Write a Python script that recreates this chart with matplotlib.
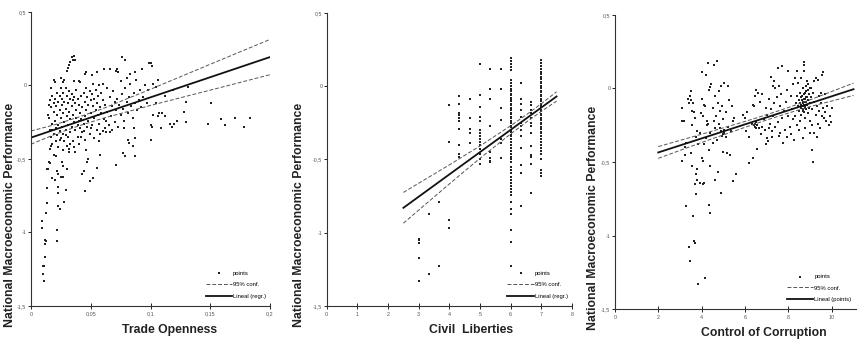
import numpy as np
import matplotlib.pyplot as plt

plt.rcParams['font.family'] = ['Liberation Sans', 'DejaVu Sans']

# ---- panel 1: trade openness (x, y)
trade_pts = [
    (0.0095, -0.92), (0.0095, -0.97), (0.0098, -1.23), (0.010, -1.28), (0.011, -1.33), (0.011, -1.23),
    (0.012, -1.05), (0.0122, -1.06), (0.012, -1.08), (0.012, -1.17), (0.0125, -0.87), (0.013, -0.80),
    (0.013, -0.70), (0.013, -0.57), (0.014, -0.57), (0.015, -0.52), (0.016, -0.53), (0.016, -0.43),
    (0.017, -0.41), (0.018, -0.63), (0.019, -0.47), (0.020, -0.64), (0.021, -0.48), (0.022, -0.98),
    (0.022, -1.06), (0.022, -0.58), (0.023, -0.60), (0.023, -0.69), (0.023, -0.73), (0.023, -0.82),
    (0.024, -0.84), (0.025, -0.62), (0.026, -0.52), (0.027, -0.55), (0.027, -0.62), (0.028, -0.79),
    (0.029, -0.71), (0.030, -0.57), (0.032, -0.45), (0.045, -0.72), (0.043, -0.60), (0.044, -0.58),
    (0.047, -0.52), (0.048, -0.50), (0.046, -0.44), (0.049, -0.65), (0.052, -0.63), (0.055, -0.56),
    (0.057, -0.38), (0.058, -0.47), (0.071, -0.54), (0.077, -0.46), (0.079, -0.48), (0.081, -0.37),
    (0.082, -0.39), (0.085, -0.41), (0.087, -0.48), (0.086, -0.29), (0.087, -0.36), (0.100, -0.37),
    (0.100, -0.27), (0.101, -0.28), (0.102, -0.20), (0.105, -0.12), (0.106, -0.21), (0.107, -0.19),
    (0.109, -0.29), (0.110, -0.19), (0.112, -0.21), (0.116, -0.26), (0.118, -0.28), (0.120, -0.26),
    (0.122, -0.24), (0.128, -0.18), (0.130, -0.25), (0.130, -0.11), (0.131, -0.01), (0.148, -0.26),
    (0.151, -0.12), (0.159, -0.23), (0.162, -0.27), (0.171, -0.22), (0.178, -0.28), (0.183, -0.22),
    (0.106, 0.04), (0.112, -0.07), (0.119, -0.03), (0.014, -0.20), (0.015, -0.13), (0.015, -0.22),
    (0.016, -0.10), (0.016, -0.30), (0.017, -0.02), (0.017, -0.15), (0.017, -0.35), (0.018, -0.07),
    (0.018, -0.26), (0.018, -0.40), (0.019, -0.12), (0.019, -0.18), (0.019, -0.33), (0.020, 0.02),
    (0.020, -0.09), (0.020, -0.24), (0.021, -0.14), (0.021, -0.29), (0.021, -0.38), (0.022, -0.05),
    (0.022, -0.20), (0.022, -0.34), (0.023, -0.11), (0.023, -0.27), (0.023, -0.42), (0.024, -0.07),
    (0.024, -0.17), (0.024, -0.31), (0.025, -0.02), (0.025, -0.22), (0.025, -0.36), (0.026, -0.09),
    (0.026, -0.13), (0.026, -0.28), (0.027, -0.05), (0.027, -0.19), (0.027, -0.33), (0.027, -0.44),
    (0.028, -0.11), (0.028, -0.25), (0.028, -0.38), (0.029, -0.02), (0.029, -0.16), (0.029, -0.30),
    (0.030, -0.07), (0.030, -0.21), (0.030, -0.41), (0.031, -0.12), (0.031, -0.27), (0.031, -0.35),
    (0.032, -0.04), (0.032, -0.18), (0.032, -0.43), (0.033, -0.09), (0.033, -0.23), (0.033, -0.32),
    (0.034, -0.06), (0.034, -0.14), (0.034, -0.28), (0.035, -0.10), (0.035, -0.20), (0.035, -0.38),
    (0.036, 0.03), (0.036, -0.08), (0.036, -0.25), (0.037, -0.12), (0.037, -0.30), (0.037, -0.45),
    (0.038, -0.03), (0.038, -0.17), (0.038, -0.22), (0.039, -0.09), (0.039, -0.27), (0.039, -0.35),
    (0.040, -0.13), (0.040, -0.24), (0.040, -0.40), (0.041, 0.02), (0.041, -0.19), (0.041, -0.29),
    (0.042, -0.07), (0.042, -0.23), (0.043, -0.15), (0.043, -0.32), (0.044, -0.05), (0.044, -0.26),
    (0.045, -0.11), (0.045, -0.21), (0.045, -0.37), (0.046, -0.02), (0.046, -0.17), (0.047, -0.28),
    (0.047, -0.08), (0.048, -0.13), (0.048, -0.24), (0.049, -0.04), (0.049, -0.33), (0.050, -0.10),
    (0.050, -0.19), (0.051, -0.06), (0.051, -0.27), (0.052, 0.01), (0.052, -0.14), (0.053, -0.09),
    (0.053, -0.22), (0.054, -0.03), (0.054, -0.17), (0.055, -0.12), (0.055, -0.30), (0.056, -0.07),
    (0.056, -0.20), (0.057, 0.00), (0.057, -0.26), (0.058, -0.15), (0.058, -0.33), (0.059, -0.05),
    (0.059, -0.19), (0.060, -0.10), (0.060, 0.01), (0.061, -0.23), (0.062, -0.29), (0.062, -0.13),
    (0.063, -0.32), (0.064, -0.02), (0.064, -0.18), (0.065, -0.27), (0.066, -0.08), (0.067, -0.21),
    (0.068, -0.30), (0.068, -0.14), (0.069, -0.04), (0.070, -0.25), (0.071, -0.17), (0.072, -0.09),
    (0.073, -0.28), (0.074, -0.13), (0.075, -0.20), (0.075, 0.03), (0.076, -0.06), (0.077, -0.16),
    (0.078, -0.24), (0.079, -0.02), (0.080, -0.11), (0.080, 0.05), (0.081, -0.19), (0.082, -0.08),
    (0.083, 0.01), (0.084, -0.14), (0.085, -0.22), (0.086, -0.05), (0.087, -0.12), (0.088, 0.04),
    (0.089, -0.17), (0.090, -0.10), (0.091, -0.03), (0.092, -0.15), (0.094, -0.08), (0.095, 0.00),
    (0.097, -0.12), (0.098, -0.03), (0.027, 0.02), (0.028, 0.04), (0.030, 0.10), (0.031, 0.12),
    (0.032, 0.14), (0.033, 0.16), (0.034, 0.19), (0.035, 0.17), (0.036, 0.20), (0.037, 0.17),
    (0.040, 0.03), (0.045, 0.08), (0.046, 0.09), (0.051, 0.07), (0.055, 0.09), (0.061, 0.11),
    (0.066, 0.11), (0.071, 0.10), (0.072, 0.11), (0.073, 0.09), (0.076, 0.19), (0.079, 0.17),
    (0.083, 0.08), (0.087, 0.09), (0.093, 0.11), (0.099, 0.15), (0.100, 0.15), (0.101, 0.13),
    (0.102, 0.01), (0.105, -0.01), (0.019, 0.04), (0.025, 0.05), (0.018, -0.30), (0.024, -0.37),
    (0.029, -0.34), (0.033, -0.40), (0.036, -0.42), (0.042, -0.35), (0.044, -0.31), (0.050, -0.29),
    (0.053, -0.36), (0.060, -0.31), (0.063, -0.24), (0.066, -0.32), (0.070, -0.11), (0.078, -0.29),
]
trade_fit_x = [0.0, 0.2]
trade_fit_y = [-0.355, 0.193]
trade_band_x = [0.0, 0.02, 0.04, 0.06, 0.10, 0.15, 0.20]
trade_band_hi = [-0.310, -0.267, -0.215, -0.158, -0.026, 0.144, 0.313]
trade_band_lo = [-0.400, -0.333, -0.275, -0.224, -0.136, -0.032, 0.073]

# ---- panel 2: civil liberties, values per level
civil_cols = {
    3.0: [-1.04, -1.05, -1.07, -1.17, -1.33],
    3.33: [-0.87, -1.28],
    3.67: [-0.79, -1.23],
    4.0: [-0.13, -0.38, -0.91, -0.97],
    4.33: [-0.07, -0.12, -0.18, -0.20, -0.22, -0.24, -0.29, -0.40, -0.46, -0.48],
    4.67: [-0.09, -0.22, -0.29, -0.32, -0.39],
    5.0: [0.15, -0.06, -0.14, -0.21, -0.24, -0.30, -0.32, -0.34, -0.36, -0.38, -0.40, -0.43,
          -0.46, -0.50, -0.53],
    5.33: [0.12, -0.02, -0.09, -0.27, -0.45, -0.49, -0.51, -0.52],
    5.67: [0.12, -0.02, -0.15, -0.23, -0.36, -0.39, -0.49],
    6.0: [0.19, 0.17, 0.15, 0.13, 0.11, 0.04, 0.02, 0.0, -0.02, -0.03, -0.05, -0.06, -0.08,
          -0.09, -0.10, -0.12, -0.13, -0.15, -0.16, -0.18, -0.19, -0.21, -0.22, -0.24, -0.25,
          -0.27, -0.28, -0.30, -0.31, -0.33, -0.34, -0.36, -0.38, -0.40, -0.42, -0.44, -0.46,
          -0.48, -0.50, -0.52, -0.55, -0.57, -0.59, -0.62, -0.64, -0.66, -0.68, -0.70, -0.72,
          -0.74, -0.79, -0.84, -0.87, -0.98, -1.06, -1.23],
    6.33: [0.02, -0.09, -0.12, -0.16, -0.21, -0.25, -0.27, -0.30, -0.34, -0.42, -0.54, -0.59,
           -0.82],
    6.67: [-0.11, -0.13, -0.16, -0.18, -0.22, -0.25, -0.27, -0.32, -0.41, -0.47, -0.48, -0.53,
           -0.73],
    7.0: [0.18, 0.16, 0.14, 0.12, 0.10, 0.08, 0.06, 0.05, 0.03, 0.02, 0.0, -0.01, -0.03, -0.04,
          -0.06, -0.07, -0.09, -0.10, -0.12, -0.13, -0.14, -0.16, -0.17, -0.19, -0.20, -0.22,
          -0.23, -0.25, -0.26, -0.28, -0.29, -0.31, -0.32, -0.34, -0.36, -0.38, -0.40, -0.42,
          -0.44, -0.46, -0.50, -0.57, -0.59, -0.61],
}
civil_fit_x = [2.5, 7.5]
civil_fit_y = [-0.83, -0.07]
civil_band_x = [2.5, 4.0, 5.0, 6.0, 6.5, 7.0, 7.5]
civil_band_hi = [-0.725, -0.537, -0.408, -0.270, -0.197, -0.120, -0.038]
civil_band_lo = [-0.935, -0.667, -0.492, -0.326, -0.247, -0.172, -0.102]

# ---- panel 3: control of corruption (x, y)
corr_pts = [
    (3.3, -0.80), (3.4, -1.08), (3.45, -1.17), (3.6, -0.87), (3.65, -1.04), (3.7, -1.05),
    (3.85, -1.33), (4.15, -1.29), (4.35, -0.79), (4.4, -0.85), (3.75, -0.72), (3.7, -0.65),
    (3.8, -0.62), (3.75, -0.58), (3.8, -0.55), (3.9, -0.64), (4.05, -0.65), (4.1, -0.64),
    (3.55, -0.53), (4.0, -0.47), (4.05, -0.49), (4.4, -0.53), (4.6, -0.62), (4.75, -0.57),
    (4.9, -0.71), (5.45, -0.63), (5.6, -0.58), (3.1, -0.49), (3.25, -0.45), (3.5, -0.44),
    (3.1, -0.13), (3.1, -0.22), (3.2, -0.22), (3.25, -0.40), (3.3, -0.37), (3.35, -0.07),
    (3.4, -0.10), (3.45, -0.05), (3.5, -0.02), (3.5, -0.08), (3.55, -0.15), (3.55, -0.25),
    (3.6, -0.10), (3.65, -0.16), (3.7, -0.20), (3.75, -0.33), (3.8, -0.29), (3.85, -0.38),
    (3.9, -0.30), (3.95, -0.17), (4.0, 0.11), (4.0, -0.07), (4.05, -0.19), (4.1, -0.38),
    (4.1, -0.11), (4.15, -0.12), (4.2, 0.09), (4.2, -0.34), (4.25, -0.22), (4.3, 0.17),
    (4.3, -0.24), (4.35, -0.01), (4.35, -0.42), (4.4, 0.01), (4.4, -0.30), (4.45, 0.03),
    (4.5, -0.13), (4.5, -0.37), (4.55, 0.16), (4.6, -0.05), (4.6, -0.27), (4.65, -0.19),
    (4.7, 0.19), (4.7, -0.35), (4.75, -0.10), (4.8, -0.02), (4.8, -0.24), (4.85, -0.15),
    (4.9, 0.02), (4.9, -0.29), (4.95, -0.12), (5.0, -0.31), (5.0, -0.21), (5.05, 0.04),
    (5.05, -0.28), (5.1, -0.16), (5.1, -0.33), (5.15, -0.44), (5.2, 0.02), (5.2, -0.26),
    (5.25, -0.08), (5.3, -0.45), (5.35, -0.29), (5.4, -0.12), (5.45, -0.22), (5.5, -0.20),
    (5.0, -0.43), (4.95, -0.32), (5.05, -0.30), (4.85, -0.27), (4.55, -0.22), (4.25, -0.25),
    (5.9, -0.18), (6.0, -0.20), (6.05, -0.29), (6.1, -0.16), (6.2, -0.33), (6.2, -0.51),
    (6.3, -0.24), (6.35, -0.11), (6.4, -0.12), (6.45, -0.05), (6.5, -0.23), (6.5, -0.01),
    (6.55, -0.41), (6.55, -0.25), (6.6, -0.03), (6.65, -0.27), (6.7, -0.09), (6.75, -0.31),
    (6.8, -0.04), (6.85, -0.21), (6.9, -0.28), (6.95, -0.13), (7.0, -0.34), (7.0, -0.18),
    (7.05, -0.36), (7.1, -0.07), (7.15, -0.24), (7.2, 0.08), (7.2, -0.14), (7.25, -0.29),
    (7.3, 0.02), (7.3, -0.19), (7.35, -0.10), (7.4, -0.26), (7.4, 0.00), (7.45, -0.06),
    (7.5, 0.14), (7.5, -0.23), (7.55, 0.02), (7.55, -0.32), (7.6, -0.12), (7.65, -0.04),
    (7.7, 0.15), (7.7, -0.20), (7.75, -0.37), (7.8, -0.15), (7.85, -0.28), (7.9, -0.09),
    (7.95, -0.33), (8.0, 0.12), (8.0, -0.19), (8.05, -0.26), (8.1, -0.05), (8.1, -0.31),
    (8.15, -0.14), (8.2, 0.03), (8.2, -0.21), (8.25, -0.35), (7.95, -0.01), (7.35, 0.05),
    (7.6, -0.30), (7.25, -0.33), (6.95, -0.38), (6.8, -0.26), (6.35, -0.47), (6.45, -0.24),
    (7.1, -0.27), (6.4, -0.25), (6.45, -0.26), (6.5, -0.27),
    (8.4, -0.05), (8.45, -0.12), (8.5, -0.08), (8.5, -0.15), (8.55, -0.03), (8.55, -0.10),
    (8.6, -0.13), (8.6, -0.06), (8.6, -0.18), (8.65, 0.0), (8.65, -0.09), (8.65, -0.14),
    (8.7, 0.18), (8.7, 0.16), (8.7, 0.12), (8.7, -0.04), (8.7, -0.11), (8.7, -0.16),
    (8.75, -0.07), (8.75, -0.12), (8.75, -0.20), (8.8, -0.02), (8.8, -0.09), (8.8, -0.14),
    (8.85, 0.05), (8.85, -0.06), (8.85, -0.11), (8.9, -0.01), (8.9, -0.08), (8.9, -0.17),
    (8.95, -0.13), (8.95, -0.04), (9.0, 0.0), (9.0, -0.10), (9.0, -0.22), (9.05, -0.06),
    (9.1, -0.14), (9.1, -0.42), (9.15, -0.50), (9.15, -0.03), (9.2, -0.09), (9.2, -0.30),
    (9.25, 0.07), (9.25, -0.18), (9.3, -0.12), (9.3, -0.33), (9.35, 0.06), (9.35, -0.24),
    (9.4, -0.05), (9.4, -0.15), (9.45, -0.27), (9.5, -0.03), (9.5, -0.10), (9.55, 0.09),
    (9.55, -0.19), (9.6, 0.11), (9.6, -0.13), (9.65, -0.20), (9.7, -0.04), (9.7, -0.16),
    (9.75, -0.22), (9.8, -0.12), (9.85, -0.25), (9.9, -0.19), (9.95, -0.23), (10.0, -0.13),
    (8.4, -0.25), (8.5, -0.28), (8.3, -0.19), (8.35, -0.10), (8.45, 0.04), (8.55, -0.22),
    (8.6, 0.07), (8.4, 0.12), (8.3, 0.07), (8.8, 0.02), (8.9, 0.03), (9.05, 0.00),
    (9.2, 0.05), (9.1, -0.25), (9.0, -0.30), (8.75, -0.27), (8.65, -0.34), (8.68, -0.10),
    (8.72, -0.09), (8.66, -0.12), (8.74, -0.13), (8.62, -0.08), (8.78, -0.11), (8.7, -0.07),
    (8.64, -0.05), (8.82, -0.06), (8.68, -0.15), (8.58, -0.11), (8.76, -0.03),
]
corr_fit_x = [2.0, 11.0]
corr_fit_y = [-0.435, -0.005]
corr_band_x = [2.0, 4.0, 6.0, 7.0, 8.0, 9.0, 11.0]
corr_band_hi = [-0.395, -0.311, -0.224, -0.178, -0.129, -0.077, 0.037]
corr_band_lo = [-0.475, -0.367, -0.264, -0.214, -0.167, -0.123, -0.047]

yticks = [0.5, 0, -0.5, -1, -1.5]
ytick_labels = ['0,5', '0', '-0,5', '-1', '-1,5']
ylab = 'National Macroeconomic Performance'

fig = plt.figure(figsize=(8.6, 3.4), dpi=100)


def style_axis(ax, xlim, xticks, xticklabels, xlabel, xlab_x, ylab_x):
    ax.set_xlim(*xlim)
    ax.set_ylim(-1.5, 0.5)
    ax.spines['top'].set_visible(False)
    ax.spines['right'].set_visible(False)
    for s in ('left', 'bottom'):
        ax.spines[s].set_linewidth(0.8)
        ax.spines[s].set_color('#333333')
    ax.set_yticks(yticks)
    ax.set_yticklabels(ytick_labels)
    ax.set_xticks(xticks)
    ax.set_xticklabels(xticklabels)
    ax.tick_params(axis='y', direction='out', length=2, width=0.6, labelsize=3.8,
                   labelcolor='#555555', pad=1.2)
    ax.tick_params(axis='x', direction='inout', length=4, width=0.6, labelsize=3.9,
                   labelcolor='#555555', pad=2)
    ax.set_xlabel(xlabel, fontsize=8.8, fontweight='bold', color='#222222')
    ax.xaxis.label.set_va('center')
    ax.xaxis.set_label_coords(xlab_x, -0.083)
    ax.set_ylabel(ylab, fontsize=8.8, fontweight='bold', color='#222222')
    ax.yaxis.label.set_va('center')
    ax.yaxis.set_label_coords(ylab_x, 0.31)


def draw(ax, px, py, fx, fy, bx, bhi, blo, line_label):
    pts = ax.scatter(px, py, s=2.4, marker='s', color='#222222', linewidths=0, label='points')
    conf, = ax.plot(bx, bhi, color='#555555', lw=0.7, dashes=(4, 2), label='95% conf.')
    ax.plot(bx, blo, color='#555555', lw=0.7, dashes=(4, 2))
    fit, = ax.plot(fx, fy, color='#111111', lw=1.3, label=line_label)
    ax.legend(handles=[pts, conf, fit], loc='lower right', bbox_to_anchor=(1.0, 0.01),
              frameon=False, fontsize=4.2, handlelength=4.5, labelspacing=1.1,
              handletextpad=0.2, borderpad=0.2, scatterpoints=1, markerscale=1.3)


# panel 1
ax1 = fig.add_axes([0.036, 0.10, 0.278, 0.865])
tp = np.array(trade_pts)
draw(ax1, tp[:, 0], tp[:, 1], trade_fit_x, trade_fit_y, trade_band_x, trade_band_hi,
     trade_band_lo, 'Lineal (regr.)')
style_axis(ax1, (0, 0.2), [0, 0.05, 0.1, 0.15, 0.2], ['0', '0,05', '0,1', '0,15', '0,2'],
           'Trade Openness', 0.58, -0.088)

# panel 2
ax2 = fig.add_axes([0.380, 0.10, 0.285, 0.862])
cx = [lvl for lvl, vals in civil_cols.items() for _ in vals]
cy = [v for vals in civil_cols.values() for v in vals]
draw(ax2, cx, cy, civil_fit_x, civil_fit_y, civil_band_x, civil_band_hi, civil_band_lo,
     'Lineal (regr.)')
style_axis(ax2, (0, 8), list(range(9)), [str(i) for i in range(9)],
           'Civil  Liberties', 0.59, -0.112)

# panel 3
ax3 = fig.add_axes([0.715, 0.091, 0.280, 0.865])
cp = np.array(corr_pts)
draw(ax3, cp[:, 0], cp[:, 1], corr_fit_x, corr_fit_y, corr_band_x, corr_band_hi,
     corr_band_lo, 'Lineal (points)')
style_axis(ax3, (0, 11.1), [0, 2, 4, 6, 8, 10], ['0', '2', '4', '6', '8', '10'],
           'Control of Corruption', 0.62, -0.09)

fig.savefig('out.png', dpi=100)
